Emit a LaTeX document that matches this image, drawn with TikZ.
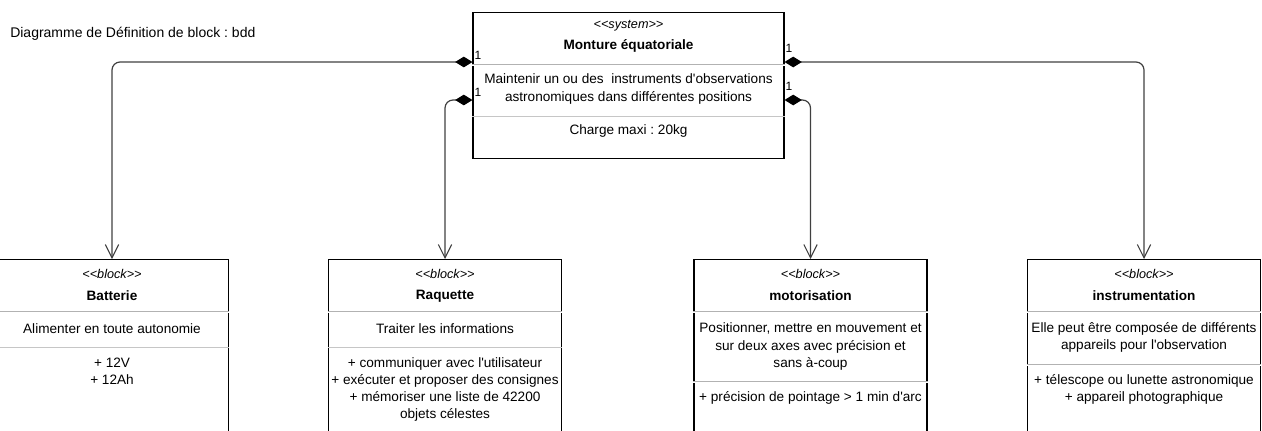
\documentclass[tikz,border=0pt]{standalone}
\usepackage{fontspec}
\setmainfont{Liberation Sans}[Ligatures=TeXOff]
\usetikzlibrary{arrows.meta,calc}
\frenchspacing

\newcommand{\stereo}[1]{<\kern0pt<#1>\kern0pt>}

\tikzset{
  frame/.style={draw=black, line width=0.8pt, inner sep=0pt, anchor=north},
  blockbox/.style={frame, minimum width=174.75pt, minimum height=142.5pt},
  stereotxt/.style={font=\fontsize{9.5}{11}\selectfont\itshape, inner sep=0pt},
  nametxt/.style={font=\fontsize{10.2}{12}\selectfont\bfseries, inner sep=0pt},
  txt/.style={font=\fontsize{10.2}{12.9}\selectfont, align=center, inner sep=0pt},
  mult/.style={font=\fontsize{9}{10}\selectfont, inner sep=0pt},
  sepline/.style={draw=gray!60, line width=0.5pt, double=white, double distance=0.6pt},
  thinsep/.style={draw=gray!45, line width=0.6pt},
  compo/.style={draw=black!75, line width=0.9pt, rounded corners=6pt,
    {Diamond[length=13pt,width=8pt,fill=black,color=black]}-{Straight Barb[length=10pt,width=10pt,line width=0.8pt]}}
}

\begin{document}
\begin{tikzpicture}[x=0.75pt, y=-0.75pt]
    \useasboundingbox (0,0) rectangle (1262,430);

    % Titre du diagramme
    \node[anchor=west, inner sep=0pt, font=\fontsize{10.5}{12}\selectfont] (titre) at (10,34) {Diagramme de Définition de block : bdd};

    % Bloc systeme
    \node[frame, minimum width=233.25pt, minimum height=109.5pt] (sys) at (628.5,12) {};
    \node[stereotxt] (sysSt) at (628.5,26) {\stereo{system}};
    \node[nametxt] (sysNom) at (628.5,46) {Monture équatoriale};
    \node[txt] (sysFct) at (628.5,89) {Maintenir un ou des\ \ instruments d'observations\\[1pt] astronomiques dans différentes positions};
    \node[txt] (sysVal) at (628.5,131) {Charge maxi : 20kg};
    \draw[sepline] ($(sys.north west)+(0,53)$) -- ($(sys.north east)+(0,53)$);
    \draw[thinsep] ($(sys.north west)+(0,104)$) -- ($(sys.north east)+(0,104)$);

    % Blocs composants
    \node[blockbox] (bat) at (112,259) {};
    \node[blockbox] (raq) at (445,259) {};
    \node[blockbox] (mot) at (810.5,259) {};
    \node[blockbox] (instr) at (1144,259) {};

    % Batterie
    \node[stereotxt] (batSt) at (112,274) {\stereo{block}};
    \node[nametxt] (batNom) at (112,296) {Batterie};
    \node[txt] (batFct) at (112,329) {Alimenter en toute autonomie};
    \node[txt] (batVal) at (112,371) {+ 12V\\ + 12Ah};
    \draw[sepline] ($(bat.north west)+(0,53)$) -- ($(bat.north east)+(0,53)$);
    \draw[thinsep] ($(bat.north west)+(0,88)$) -- ($(bat.north east)+(0,88)$);

    % Raquette
    \node[stereotxt] (raqSt) at (445,274) {\stereo{block}};
    \node[nametxt] (raqNom) at (445,296) {Raquette};
    \node[txt] (raqFct) at (445,329) {Traiter les informations};
    \node[txt] (raqVal) at (445,389.5) {+ communiquer avec l'utilisateur\\ + exécuter et proposer des consignes\\ + mémoriser une liste de 42200\\ objets célestes};
    \draw[sepline] ($(raq.north west)+(0,53)$) -- ($(raq.north east)+(0,53)$);
    \draw[thinsep] ($(raq.north west)+(0,88)$) -- ($(raq.north east)+(0,88)$);

    % motorisation
    \node[stereotxt] (motSt) at (810.5,274) {\stereo{block}};
    \node[nametxt] (motNom) at (810.5,296) {motorisation};
    \node[txt] (motFct) at (810.5,346.5) {Positionner, mettre en mouvement et\\ sur deux axes avec précision et\\ sans à-coup};
    \node[txt] (motVal) at (810.5,398) {+ précision de pointage > 1 min d'arc};
    \draw[sepline] ($(mot.north west)+(0,53)$) -- ($(mot.north east)+(0,53)$);
    \draw[sepline] ($(mot.north west)+(0,123)$) -- ($(mot.north east)+(0,123)$);

    % instrumentation
    \node[stereotxt] (instrSt) at (1144,274) {\stereo{block}};
    \node[nametxt] (instrNom) at (1144,296) {instrumentation};
    \node[txt] (instrFct) at (1144,337.5) {Elle peut être composée de différents\\ appareils pour l'observation};
    \node[txt] (instrVal) at (1144,389.5) {+ télescope ou lunette astronomique\\ + appareil photographique};
    \draw[sepline] ($(instr.north west)+(0,53)$) -- ($(instr.north east)+(0,53)$);
    \draw[sepline] ($(instr.north west)+(0,106)$) -- ($(instr.north east)+(0,106)$);

    % Ports de composition
    \coordinate (pL1) at ($(sys.north west)+(0,50)$);
    \coordinate (pL2) at ($(sys.north west)+(0,88)$);
    \coordinate (pR1) at ($(sys.north east)+(0,50)$);
    \coordinate (pR2) at ($(sys.north east)+(0,88)$);

    % Compositions
    \draw[compo] (pL1) -| (bat.north);
    \draw[compo] (pL2) -| (raq.north);
    \draw[compo] (pR2) -| (mot.north);
    \draw[compo] (pR1) -| (instr.north);

    % Multiplicites
    \node[mult] (mL1) at (478,55) {1};
    \node[mult] (mL2) at (478,92) {1};
    \node[mult] (mR1) at (789,48) {1};
    \node[mult] (mR2) at (789,86) {1};
\end{tikzpicture}
\end{document}
